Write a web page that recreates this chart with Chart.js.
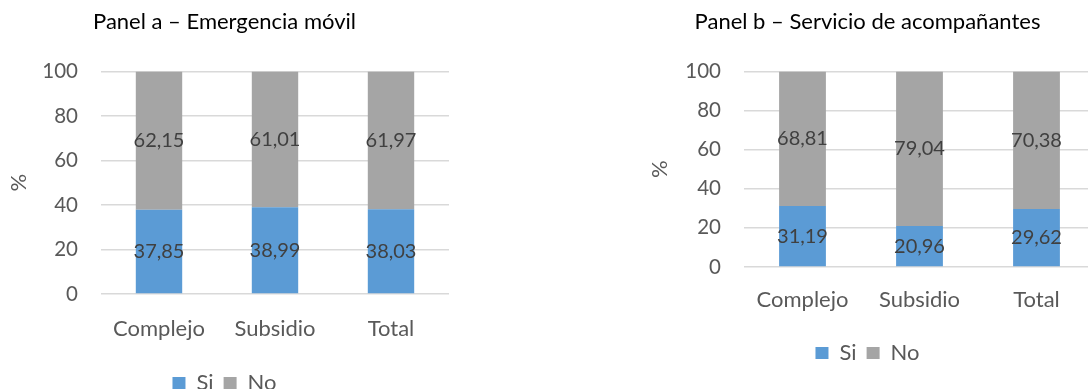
<!DOCTYPE html>
<html>
<head>
<meta charset="utf-8">
<script src="https://cdn.jsdelivr.net/npm/chart.js@4.4.1/dist/chart.umd.min.js"></script>
<style>
  html, body { margin: 0; padding: 0; background: #fff; overflow: hidden; }
  body { width: 1088px; height: 389px; position: relative; }
  canvas { position: absolute; top: 0; }
  #chartA { left: 0; }
  #chartB { left: 640px; }
</style>
</head>
<body>
<canvas id="chartA" width="450" height="404"></canvas>
<canvas id="chartB" width="460" height="374"></canvas>
<script>
const categories = ['Complejo', 'Subsidio', 'Total'];
const seriesNames = ['Si', 'No'];
const emergenciaSi = [37.85, 38.99, 38.03];
const emergenciaNo = [62.15, 61.01, 61.97];
const acompSi = [31.19, 20.96, 29.62];
const acompNo = [68.81, 79.04, 70.38];
const yMin = 0, yMax = 100, yStep = 20;

const FONT = 'Lato';
const siColor = '#5b9bd5';
const noColor = '#a5a5a5';

// value written in the middle of every stacked segment, comma as decimal mark
const segmentLabels = {
  id: 'segmentLabels',
  afterDatasetsDraw(chart) {
    const ctx = chart.ctx;
    ctx.save();
    ctx.font = '20px ' + FONT;
    ctx.fillStyle = '#404040';
    ctx.textAlign = 'center';
    ctx.textBaseline = 'middle';
    chart.data.datasets.forEach((ds, i) => {
      chart.getDatasetMeta(i).data.forEach((bar, j) => {
        const y = (bar.y + bar.base) / 2;
        ctx.fillText(ds.data[j].toFixed(2).replace('.', ','), bar.x, y);
      });
    });
    ctx.restore();
  }
};

function makePanel(id, title, si, no, layout) {
  return new Chart(document.getElementById(id), {
    type: 'bar',
    data: {
      labels: categories,
      datasets: [
        { label: seriesNames[0], data: si, backgroundColor: siColor },
        { label: seriesNames[1], data: no, backgroundColor: noColor }
      ]
    },
    options: {
      responsive: false,
      animation: false,
      devicePixelRatio: 1,
      layout: { padding: { left: 0, right: layout.right, top: 0, bottom: 0 } },
      datasets: { bar: { categoryPercentage: 1, barPercentage: 0.4 } },
      plugins: {
        title: {
          display: true,
          text: title,
          color: '#000',
          font: { family: FONT, size: 22, weight: 'normal' },
          padding: { top: 9, bottom: 36 }
        },
        legend: {
          position: 'bottom',
          labels: {
            boxWidth: 13,
            boxHeight: 12,
            padding: 10,
            color: '#595959',
            font: { family: FONT, size: 22 }
          }
        },
        tooltip: { enabled: false }
      },
      scales: {
        x: {
          stacked: true,
          grid: { display: false },
          border: { display: false },
          ticks: { color: '#595959', padding: layout.xPad, font: { family: FONT, size: 22 } },
          afterFit: (s) => { s.height = layout.xHeight; }
        },
        y: {
          stacked: true,
          min: yMin,
          max: yMax,
          ticks: { stepSize: yStep, color: '#595959', padding: 23, font: { family: FONT, size: 20.5 } },
          grid: { color: '#d9d9d9', lineWidth: 1.5, drawTicks: false },
          border: { display: false },
          title: {
            display: true,
            text: '%',
            color: '#595959',
            font: { family: FONT, size: 22 },
            padding: { top: layout.titlePad, bottom: 0 }
          },
          afterFit: (s) => { s.width = layout.yWidth; }
        }
      }
    },
    plugins: [segmentLabels]
  });
}

makePanel('chartA', 'Panel a – Emergencia móvil', emergenciaSi, emergenciaNo,
  { yWidth: 101, xHeight: 68, xPad: 14, titlePad: 6, right: 1 });
makePanel('chartB', 'Panel b – Servicio de acompañantes', acompSi, acompNo,
  { yWidth: 104, xHeight: 65, xPad: 12, titlePad: 7, right: 5 });
</script>
</body>
</html>
